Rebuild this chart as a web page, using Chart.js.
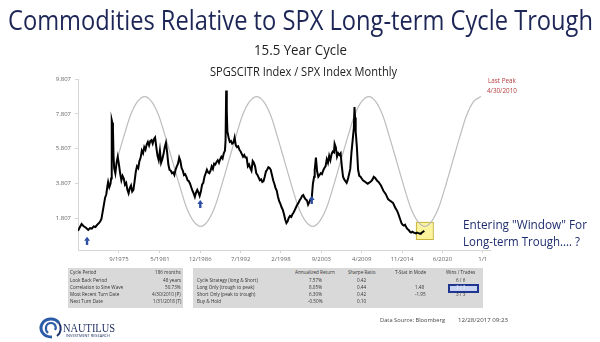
<!DOCTYPE html>
<html><head><meta charset="utf-8">
<script src="https://cdn.jsdelivr.net/npm/chart.js@4.4.1/dist/chart.umd.min.js"></script>
<style>
html,body{margin:0;padding:0;background:#fff;}
#wrap{position:relative;width:600px;height:342px;overflow:hidden;font-family:"Open Sans",sans-serif;background:#fff;}
#c{position:absolute;left:0;top:0;}
.t{position:absolute;white-space:nowrap;line-height:1;}
.box{position:absolute;background:#d9d9d9;}
</style></head><body>
<div id="wrap">
<canvas id="c" width="600" height="342"></canvas>
<div class="box" style="left:68px;top:268px;width:115px;height:40px"></div>
<div class="box" style="left:193px;top:268px;width:290px;height:40px"></div>
<div style="position:absolute;left:448px;top:284px;width:27px;height:5px;border:2px solid #1f3590;background:#c9d3f2"></div>
<svg style="position:absolute;left:38px;top:316px" width="26" height="24" viewBox="0 0 26 24">
<path d="M14 21 C5 21 1 14 4 8 C7 2 17 1 21 7" stroke="#2c5ba8" stroke-width="3" fill="none"/>
<path d="M10 17 C6 13 8 7 13 7 C17 7 19 11 17 14" stroke="#2c5ba8" stroke-width="2.2" fill="none"/>
<path d="M21 7 C24 11 23 17 19 20" stroke="#1d2f66" stroke-width="2" fill="none"/>
</svg>
</div>
<script>
// ---- data ----
const dates = [
"1970-01","1970-04","1970-07","1970-10",
"1971-01","1971-04","1971-06","1971-09","1971-12",
"1972-03","1972-06","1972-09","1972-12",
"1973-02","1973-04","1973-06","1973-08","1973-10","1973-12",
"1974-02","1974-03","1974-05","1974-07","1974-08","1974-09","1974-10","1974-11","1974-12",
"1975-01","1975-03","1975-05","1975-07","1975-09","1975-11",
"1976-01","1976-03","1976-05","1976-07","1976-09","1976-11",
"1977-01","1977-03","1977-05","1977-07","1977-09","1977-11",
"1978-01","1978-03","1978-05","1978-07","1978-09","1978-11",
"1979-01","1979-03","1979-05","1979-07","1979-09","1979-11",
"1980-01","1980-03","1980-05","1980-07","1980-09","1980-11",
"1981-01","1981-03","1981-05","1981-07","1981-09","1981-11",
"1982-01","1982-03","1982-05","1982-07","1982-09","1982-11",
"1983-01","1983-03","1983-05","1983-07","1983-09","1983-11",
"1984-01","1984-03","1984-05","1984-07","1984-09","1984-11",
"1985-01","1985-03","1985-05","1985-07","1985-09","1985-11",
"1986-01","1986-03","1986-05","1986-07","1986-09","1986-11",
"1987-01","1987-03","1987-05","1987-07","1987-09","1987-11",
"1988-01","1988-03","1988-05","1988-07","1988-09","1988-11",
"1989-01","1989-03","1989-05","1989-07","1989-09","1989-11",
"1990-01","1990-03","1990-05","1990-06","1990-07","1990-08","1990-09","1990-11",
"1991-01","1991-03","1991-05","1991-07","1991-09","1991-11",
"1992-01","1992-03","1992-05","1992-07","1992-09","1992-11",
"1993-01","1993-03","1993-05","1993-07","1993-09","1993-11",
"1994-01","1994-03","1994-05","1994-07","1994-09","1994-11",
"1995-01","1995-03","1995-05","1995-07","1995-09","1995-11",
"1996-01","1996-03","1996-05","1996-07","1996-09","1996-11",
"1997-01","1997-03","1997-05","1997-07","1997-09","1997-11",
"1998-01","1998-03","1998-05","1998-07","1998-09","1998-11",
"1999-01","1999-03","1999-05","1999-07","1999-09","1999-11",
"2000-01","2000-03","2000-05","2000-07","2000-09","2000-11",
"2001-01","2001-03","2001-05","2001-07","2001-09","2001-11",
"2002-01","2002-03","2002-05","2002-07","2002-09","2002-10","2002-12",
"2003-02","2003-04","2003-06","2003-08","2003-10","2003-12",
"2004-02","2004-04","2004-06","2004-08","2004-10","2004-12",
"2005-02","2005-04","2005-06","2005-07","2005-09","2005-11",
"2006-01","2006-03","2006-05","2006-07","2006-09","2006-11",
"2007-01","2007-03","2007-05","2007-07","2007-09","2007-11",
"2008-01","2008-03","2008-04","2008-05","2008-06","2008-08","2008-10","2008-12",
"2009-02","2009-04","2009-06","2009-08","2009-10","2009-12",
"2010-02","2010-04","2010-06","2010-08","2010-10","2010-12",
"2011-02","2011-04","2011-06","2011-08","2011-10","2011-12",
"2012-02","2012-04","2012-06","2012-08","2012-10","2012-12",
"2013-02","2013-04","2013-06","2013-08","2013-10","2013-12",
"2014-02","2014-04","2014-06","2014-08","2014-10","2014-12",
"2015-02","2015-04","2015-06","2015-08","2015-10","2015-12",
"2016-02","2016-04","2016-06","2016-08","2016-10","2016-12",
"2017-02","2017-04","2017-06","2017-08","2017-10","2017-12"
];
const ratio = [
1.10,1.30,1.49,1.38,
1.30,1.22,1.15,1.25,1.22,
1.35,1.32,1.45,1.55,
1.65,1.80,2.20,2.60,3.00,3.20,
3.70,3.90,3.60,3.80,4.10,7.45,7.30,7.00,5.40,
4.70,4.40,5.00,5.35,4.90,4.40,
4.00,4.25,4.10,3.75,3.85,3.45,
3.25,3.55,3.70,3.35,3.45,3.95,
4.50,4.80,4.70,5.10,5.30,5.70,
5.55,5.90,5.75,6.05,6.20,6.00,
6.25,6.30,6.10,6.35,6.45,5.90,
5.40,5.15,5.70,5.00,5.20,5.50,
5.90,6.15,5.60,4.90,4.60,4.55,
4.40,4.45,4.30,4.60,4.80,4.95,
5.30,5.10,4.70,4.55,4.30,4.35,
4.20,4.00,3.95,3.80,3.60,3.40,
3.25,3.05,3.30,3.45,3.30,3.10,
3.35,3.75,3.85,4.20,4.40,4.60,
4.45,4.40,4.55,4.80,4.65,4.95,
4.90,5.05,5.15,5.00,5.20,5.35,
5.25,5.55,5.70,6.30,9.15,8.00,6.80,6.45,
6.20,6.25,6.10,6.15,6.45,6.00,
5.90,5.95,5.75,5.65,5.50,5.35,
5.45,5.30,5.30,4.80,4.90,4.70,
4.55,5.10,5.00,4.80,4.40,4.30,
4.15,4.00,4.05,3.90,3.95,4.20,
4.50,4.60,4.75,4.70,4.60,4.30,
4.00,3.80,3.55,3.40,3.05,2.80,
2.65,2.45,2.30,2.05,1.75,1.55,
1.65,1.85,1.95,1.90,2.05,2.15,
2.30,2.45,2.60,2.70,2.85,2.95,
3.10,3.15,3.00,2.90,2.85,2.60,
2.75,2.90,2.95,3.80,4.20,4.60,5.30,
4.50,4.20,4.30,4.40,4.35,4.55,
4.70,4.80,5.20,5.00,5.40,5.15,
5.50,5.65,5.60,6.10,5.90,5.35,
5.55,5.45,5.55,4.80,4.20,4.05,
3.95,3.85,4.05,4.35,4.65,5.60,
6.30,7.00,8.20,7.60,6.80,5.90,4.60,4.25,
4.20,4.10,4.00,3.95,3.90,3.85,
3.80,3.85,3.90,3.95,4.05,4.20,
4.15,4.05,3.95,3.90,3.80,3.70,
3.55,3.40,3.30,3.20,3.05,2.90,
2.85,2.80,2.75,2.70,2.55,2.40,
2.30,2.15,1.95,1.75,1.55,1.45,
1.40,1.45,1.30,1.20,1.15,1.05,
1.00,1.05,1.00,0.98,0.95,1.00,
0.97,0.95,0.93,1.00,1.05,1.10
];
// fitted 15.5-year sine wave
const sineDates = ["1975-05","1976-05","1977-04","1978-04","1979-04","1980-03","1981-03","1982-02","1983-02","1984-02","1985-01","1986-01","1987-01","1987-12","1988-12","1989-11","1990-11","1991-11","1992-10","1993-10","1994-10","1995-09","1996-09","1997-08","1998-08","1999-08","2000-07","2001-07","2002-07","2003-06","2004-06","2005-05","2006-05","2007-05","2008-04","2009-04","2010-04","2011-03","2012-03","2013-02","2014-02","2015-02","2016-01","2017-01","2018-01","2018-12","2019-12","2020-11","2021-11","2022-11","2023-10","2024-10","2025-10"];
const sineValues = [5.08,6.50,7.71,8.52,8.80,8.52,7.71,6.50,5.08,3.65,2.45,1.64,1.35,1.64,2.45,3.65,5.08,6.50,7.71,8.52,8.80,8.52,7.71,6.50,5.08,3.65,2.45,1.64,1.35,1.64,2.45,3.65,5.08,6.50,7.71,8.52,8.80,8.52,7.71,6.50,5.08,3.65,2.45,1.64,1.35,1.64,2.45,3.65,5.08,6.50,7.71,8.52,8.80];
const tickDates = ["1975-09","1981-05","1986-12","1992-07","1998-02","2003-09","2009-04","2014-11","2020-06","2026-01"];
const tickLabels = ["9/1975","5/1981","12/1986","7/1992","2/1998","9/2003","4/2009","11/2014","6/2020","1/1"];
const yTicks = [1.807,3.807,5.807,7.807,9.807];
const arrowDates = ["1971-04","1986-12","2002-05"];
const arrowLow = [0.29,2.41,2.64];
const arrowHigh = [0.76,2.87,3.10];
const windowFrom = "2016-10", windowTo = "2019-02", windowLow = 0.63, windowHigh = 1.61;

const cycleLabels = ["Cycle Period","Look Back Period","Correlation to Sine Wave","Most Recent Turn Date","Next Turn Date"];
const cycleValues = ["186 months","48 years","50.73%","4/30/2010 (P)","1/31/2018 (T)"];
const stratHeaders = ["Annualized Return","Sharpe Ratio","T-Stat in Mode","Wins / Trades"];
const stratNames = ["Cycle Strategy (long & Short)","Long Only (trough to peak)","Short Only (peak to trough)","Buy & Hold"];
const stratReturn = ["7.57%","8.05%","6.30%","-0.50%"];
const stratSharpe = ["0.42","0.44","0.42","0.10"];
const stratTStat = ["","1.48","-1.95",""];
const stratWins = ["6 / 6","3 / 3","3 / 3",""];

function mi(s){const p=s.split('-').map(Number);return (p[0]-1970)*12+(p[1]-1);}

const annot = {
  id:'annot',
  beforeDatasetsDraw(chart){
    const {ctx, scales:{x,y}} = chart;
    const x0=x.getPixelForValue(mi(windowFrom)), x1=x.getPixelForValue(mi(windowTo));
    const y0=y.getPixelForValue(windowHigh), y1=y.getPixelForValue(windowLow);
    ctx.save();
    ctx.fillStyle='#fbf49c'; ctx.fillRect(x0,y0,x1-x0,y1-y0);
    ctx.strokeStyle='#c9b53c'; ctx.lineWidth=1; ctx.strokeRect(x0+0.5,y0+0.5,x1-x0,y1-y0);
    ctx.restore();
  },
  afterDatasetsDraw(chart){
    const {ctx, scales:{x,y}} = chart;
    ctx.save(); ctx.fillStyle='#2d4ea3';
    arrowDates.forEach((d,i)=>{
      const px=x.getPixelForValue(mi(d)), top=y.getPixelForValue(arrowHigh[i]), bot=y.getPixelForValue(arrowLow[i]);
      ctx.beginPath(); ctx.moveTo(px,top); ctx.lineTo(px-3,top+4); ctx.lineTo(px+3,top+4); ctx.closePath(); ctx.fill();
      ctx.fillRect(px-1.2,top+3.5,2.4,bot-top-3.5);
    });
    ctx.restore();
  }
};

new Chart(document.getElementById('c'), {
  type:'line',
  data:{datasets:[
    {data: dates.map((d,i)=>({x:mi(d),y:ratio[i]})), borderColor:'#000', borderWidth:2, pointRadius:0, tension:0, order:1},
    {data: sineDates.map((d,i)=>({x:mi(d),y:sineValues[i]})), borderColor:'#bdbdbd', borderWidth:1.2, pointRadius:0, cubicInterpolationMode:'monotone', order:2}
  ]},
  options:{
    responsive:false, animation:false, devicePixelRatio:1,
    layout:{padding:{left:0,top:79,right:110,bottom:0}},
    plugins:{legend:{display:false},tooltip:{enabled:false}},
    scales:{
      x:{type:'linear', min:0, max:684,
        afterBuildTicks:s=>{s.ticks=tickDates.map(d=>({value:mi(d)}));},
        afterFit:s=>{s.height=92;},
        ticks:{autoSkip:false, maxRotation:0, callback:(v,i)=>tickLabels[i], font:{size:6,family:'Open Sans'}, color:'#666', padding:3},
        grid:{drawOnChartArea:false, tickLength:3, color:'#d6d6d6'},
        border:{color:'#d6d6d6'}},
      y:{min:0, max:9.807,
        afterBuildTicks:s=>{s.ticks=yTicks.map(v=>({value:v}));},
        afterFit:s=>{s.width=78;},
        ticks:{callback:v=>v.toFixed(3), font:{size:6,family:'Open Sans'}, color:'#666', padding:4},
        grid:{drawOnChartArea:false, tickLength:3, color:'#d6d6d6'},
        border:{color:'#d6d6d6'}}
    }
  },
  plugins:[annot]
});

// ---- text ----
const wrap=document.getElementById('wrap');
function put(text,o){
  const el=document.createElement('div'); el.className='t'; el.textContent=text;
  el.style.fontSize=o.size+'px'; el.style.color=o.color||'#333';
  el.style.fontFamily=o.family||'"Open Sans",sans-serif';
  if(o.weight) el.style.fontWeight=o.weight;
  if(o.ls) el.style.letterSpacing=o.ls+'px';
  wrap.appendChild(el);
  let w=el.getBoundingClientRect().width, sx=o.sx||1;
  if(o.fit){sx=o.fit/w;}
  w*=sx;
  const left=o.align==='center'?o.x-w/2:o.align==='right'?o.x-w:o.x;
  el.style.left=left+'px'; el.style.top=(o.base-0.888*o.size)+'px';
  if(sx!==1){el.style.transformOrigin='0 0';el.style.transform='scaleX('+sx+')';}
  return el;
}
put('Commodities Relative to SPX Long-term Cycle Trough',{x:8,base:30,size:27,color:'#1d2656',fit:585});
put('15.5 Year Cycle',{x:300,align:'center',base:55,size:15,color:'#222',fit:93});
put('SPGSCITR Index / SPX Index Monthly',{x:303,align:'center',base:77,size:12,color:'#222',fit:187});
put('Last Peak',{x:502,align:'center',base:83,size:7,color:'#b33a3a',sx:0.9});
put('4/30/2010',{x:502,align:'center',base:93,size:7,color:'#b33a3a',sx:0.9});
put('Entering "Window" For',{x:463,base:230,size:13,color:'#1f2d6e',fit:124});
put('Long-term Trough.... ?',{x:463,base:247,size:13,color:'#1f2d6e',fit:117});
const rowBase=[275.3,282.5,289.7,296.9,304.1];
const tsx=0.84, tfs=5.5, tcol='#333';
cycleLabels.forEach((s,i)=>put(s,{x:70,base:rowBase[i],size:tfs,color:tcol,sx:tsx}));
cycleValues.forEach((s,i)=>put(s,{x:181,align:'right',base:rowBase[i],size:tfs,color:tcol,sx:tsx}));
const colX=[315,362,411,461];
stratHeaders.forEach((s,i)=>put(s,{x:colX[i],align:'center',base:rowBase[0],size:tfs,color:tcol,sx:tsx}));
stratNames.forEach((s,i)=>put(s,{x:197,base:rowBase[i+1],size:tfs,color:tcol,sx:tsx}));
stratReturn.forEach((s,i)=>put(s,{x:colX[0],align:'center',base:rowBase[i+1],size:tfs,color:tcol,sx:tsx}));
stratSharpe.forEach((s,i)=>put(s,{x:colX[1],align:'center',base:rowBase[i+1],size:tfs,color:tcol,sx:tsx}));
stratTStat.forEach((s,i)=>{if(s)put(s,{x:420,align:'center',base:rowBase[i+1],size:tfs,color:tcol,sx:tsx});});
stratWins.forEach((s,i)=>{if(s)put(s,{x:colX[3],align:'center',base:rowBase[i+1],size:tfs,color:i===1?'#eef':tcol,sx:tsx});});
put('NAUTILUS',{x:63,base:333,size:13,color:'#1d2b5e',family:'"Liberation Serif","DejaVu Serif",serif',fit:52});
put('INVESTMENT RESEARCH',{x:66,base:337.5,size:3.5,color:'#1d2b5e',fit:44});
put('Data Source: Bloomberg',{x:380,base:322,size:6,color:'#444',fit:65});
put('12/28/2017 09:23',{x:458,base:322,size:6,color:'#444',fit:50});
</script>
</body></html>
